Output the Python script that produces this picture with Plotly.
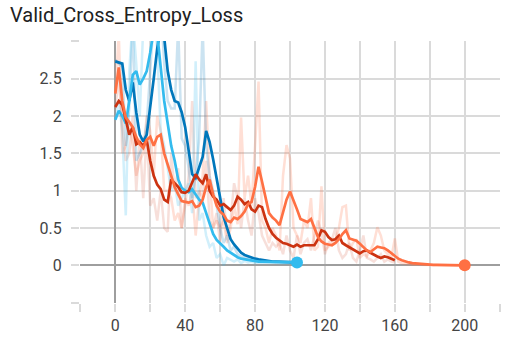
import plotly.graph_objects as go

# ---------------- data ----------------
x_blue = list(range(0, 105, 2))
dark_blue_smooth = [2.73, 2.72, 2.70, 2.35, 2.2, 2.45, 2.05, 1.75, 1.66, 1.75,
                    2.1, 2.5, 2.9, 3.2, 3.05, 2.6, 2.35, 2.2, 2.18, 2.05,
                    1.85, 1.55, 1.22, 1.17, 1.3, 1.45, 1.8, 1.65, 1.42, 1.15,
                    0.9, 0.65, 0.5, 0.35, 0.28, 0.22, 0.17, 0.14, 0.12, 0.1,
                    0.09, 0.08, 0.07, 0.06, 0.06, 0.05, 0.05, 0.05, 0.04, 0.04,
                    0.04, 0.04, 0.04]
light_blue_smooth = [1.95, 2.07, 2.0, 1.9, 2.2, 2.55, 2.6, 2.42, 2.5, 2.6,
                     2.85, 3.15, 3.1, 2.6, 2.2, 1.9, 1.6, 1.4, 1.15, 1.04,
                     1.0, 0.98, 1.02, 0.95, 0.88, 0.84, 0.7, 0.55, 0.42, 0.34,
                     0.3, 0.25, 0.2, 0.17, 0.13, 0.11, 0.09, 0.08, 0.07, 0.06,
                     0.06, 0.05, 0.05, 0.05, 0.05, 0.05, 0.04, 0.04, 0.04, 0.04,
                     0.04, 0.04, 0.04]
dark_blue_raw = [2.75, 2.7, 2.65, 1.6, 2.1, 3.3, 1.4, 1.5, 1.6, 1.9,
                 2.7, 3.3, 3.4, 3.5, 2.7, 2.2, 2.1, 2.1, 3.2, 1.7,
                 1.6, 1.3, 0.9, 1.2, 1.7, 3.2, 1.6, 1.2, 1.0, 0.8,
                 0.5, 0.3, 0.4, 0.2, 0.25, 0.15, 0.12, 0.1, 0.1, 0.07,
                 0.08, 0.06, 0.05, 0.06, 0.05, 0.05, 0.04, 0.05, 0.04, 0.04,
                 0.04, 0.04, 0.04]
light_blue_raw = [1.95, 2.2, 1.8, 0.67, 2.6, 3.3, 2.7, 2.0, 3.2, 3.3,
                  3.3, 3.4, 2.9, 1.8, 1.6, 1.3, 1.0, 1.1, 0.8, 0.9,
                  1.0, 1.1, 0.7, 2.73, 0.6, 0.7, 0.4, 0.25, 0.3, 0.1,
                  0.15, 0.0, 0.1, 0.08, 0.05, 0.08, 0.03, 0.06, 0.04, 0.05,
                  0.03, 0.04, 0.03, 0.04, 0.03, 0.04, 0.03, 0.03, 0.03, 0.03,
                  0.03, 0.03, 0.03]

x_red = list(range(0, 161, 2))
dark_red_smooth = [2.12, 2.2, 2.15, 1.95, 1.75, 1.85, 1.62, 1.65, 1.6, 1.68,
                   1.4, 1.2, 1.08, 1.02, 0.88, 0.85, 1.15, 1.1, 1.05, 0.98,
                   0.97, 1.0, 1.1, 1.22, 1.15, 1.1, 1.22, 1.0, 0.92, 0.88,
                   0.8, 0.82, 0.78, 0.74, 0.8, 0.92, 0.88, 0.82, 0.85, 0.75,
                   0.72, 0.8, 0.78, 0.62, 0.5, 0.42, 0.37, 0.33, 0.3, 0.29,
                   0.27, 0.25, 0.28, 0.25, 0.27, 0.27, 0.28, 0.27, 0.35, 0.47,
                   0.45, 0.38, 0.34, 0.35, 0.4, 0.3, 0.27, 0.24, 0.22, 0.18,
                   0.16, 0.19, 0.2, 0.17, 0.14, 0.12, 0.1, 0.12, 0.11, 0.09,
                   0.07]
dark_red_raw = [2.1, 2.5, 1.9, 1.4, 1.5, 2.0, 1.0, 1.7, 0.9, 1.8,
                0.8, 0.9, 0.6, 1.0, 0.5, 0.45, 1.5, 1.0, 1.3, 0.5,
                0.8, 1.2, 2.2, 0.9, 1.0, 0.9, 1.4, 0.6, 0.5, 0.7,
                0.3, 0.9, 0.4, 0.6, 1.1, 0.9, 0.5, 0.9, 0.6, 0.4,
                0.9, 0.7, 0.4, 0.3, 0.2, 0.3, 0.25, 0.3, 0.15, 0.4,
                0.2, 0.1, 0.4, 0.15, 0.3, 0.35, 0.2, 0.4, 0.6, 0.45,
                0.15, 0.3, 0.35, 0.5, 0.2, 0.1, 0.15, 0.3, 0.1, 0.05,
                0.2, 0.4, 0.1, 0.08, 0.05, 0.1, 0.15, 0.05, 0.08, 0.05,
                0.04]

x_orange = list(range(0, 201, 2))
orange_smooth = [2.3, 2.65, 2.2, 1.98, 1.92, 1.85, 1.72, 1.62, 1.57, 1.68,
                 1.72, 1.6, 1.72, 1.75, 1.5, 1.35, 1.2, 1.05, 0.95, 0.86,
                 0.85, 0.84, 0.86, 0.78, 0.8, 0.88, 1.05, 1.15, 0.95, 0.8,
                 0.72, 0.68, 0.6, 0.58, 0.64, 0.62, 0.66, 0.72, 0.82, 0.85,
                 1.05, 1.32, 1.12, 0.92, 0.7, 0.64, 0.6, 0.54, 0.7, 0.88,
                 0.99, 0.88, 0.75, 0.62, 0.6, 0.58, 0.62, 0.5, 0.38, 0.32,
                 0.29, 0.28, 0.27, 0.3, 0.35, 0.42, 0.47, 0.36, 0.34, 0.33,
                 0.29, 0.25, 0.2, 0.18, 0.21, 0.25, 0.24, 0.23, 0.2, 0.16,
                 0.12, 0.09, 0.07, 0.05, 0.04, 0.03, 0.025, 0.02, 0.015, 0.012,
                 0.01, 0.008, 0.007, 0.006, 0.005, 0.004, 0.003, 0.002, 0.002, 0.001,
                 0.001]
orange_raw = [2.3, 3.1, 1.5, 1.6, 1.9, 1.6, 1.2, 1.4, 1.5, 2.0,
              1.8, 1.2, 2.0, 1.8, 1.0, 1.0, 0.9, 0.6, 0.7, 0.5,
              0.9, 0.8, 1.0, 0.4, 0.9, 1.2, 2.2, 1.2, 0.5, 0.6,
              0.5, 0.6, 0.3, 0.5, 0.8, 0.55, 1.98, 0.9, 1.2, 0.8,
              1.6, 2.46, 0.6, 0.5, 0.3, 0.5, 0.4, 0.2, 1.2, 1.61,
              1.43, 0.5, 0.4, 0.3, 0.6, 0.5, 0.9, 0.2, 0.25, 1.06,
              0.2, 0.25, 0.3, 0.35, 0.5, 0.78, 0.8, 0.2, 0.3, 0.35,
              0.1, 0.15, 0.12, 0.2, 0.3, 0.51, 0.4, 0.2, 0.15, 0.1,
              0.36, 0.05, 0.03, 0.02, 0.02, 0.01, 0.01, 0.01, 0.01, 0.0,
              0.0, 0.0, 0.0, 0.0, 0.0, 0.0, 0.0, 0.0, 0.0, 0.0,
              0.0]

x_tick_vals = list(range(-20, 221, 20))
x_tick_text = ["", "0", "", "40", "", "80", "", "120", "", "160", "", "200", ""]
y_tick_vals = [-0.5, 0, 0.5, 1, 1.5, 2, 2.5, 3]
y_tick_text = ["", "0", "0.5", "1", "1.5", "2", "2.5", ""]

title_text = "Valid_Cross_Entropy_Loss"

C_DBLUE = "#0077bb"
C_LBLUE = "#33bbee"
C_DRED = "#cc3311"
C_ORANGE = "#ff7043"

# ---------------- figure ----------------
fig = go.Figure()

def add_line(x, y, color, width, opacity=1.0):
    fig.add_trace(go.Scatter(x=x, y=y, mode="lines", opacity=opacity,
                             line=dict(color=color, width=width),
                             hoverinfo="skip", showlegend=False))

# raw (faint) lines
add_line(x_orange, orange_raw, C_ORANGE, 2.5, 0.22)
add_line(x_red, dark_red_raw, C_DRED, 2.5, 0.15)
add_line(x_blue, dark_blue_raw, C_DBLUE, 2.5, 0.2)
add_line(x_blue, light_blue_raw, C_LBLUE, 2.5, 0.22)

# smoothed lines
add_line(x_blue, dark_blue_smooth, C_DBLUE, 2.7)
add_line(x_blue, light_blue_smooth, C_LBLUE, 2.7)
add_line(x_red, dark_red_smooth, C_DRED, 2.7)
add_line(x_orange, orange_smooth, C_ORANGE, 2.7)

# end markers
fig.add_trace(go.Scatter(x=[x_blue[-1]], y=[light_blue_smooth[-1]], mode="markers",
                         marker=dict(color=C_LBLUE, size=12),
                         hoverinfo="skip", showlegend=False, cliponaxis=False))
fig.add_trace(go.Scatter(x=[x_orange[-1]], y=[orange_smooth[-1]], mode="markers",
                         marker=dict(color=C_ORANGE, size=12),
                         hoverinfo="skip", showlegend=False, cliponaxis=False))

grid_c = "#dadada"
fig.update_xaxes(range=[-20.2, 220.2], tickmode="array", tickvals=x_tick_vals,
                 ticktext=x_tick_text, showgrid=True, gridcolor=grid_c, gridwidth=2,
                 zeroline=True, zerolinecolor="#9e9e9e", zerolinewidth=2,
                 ticks="outside", ticklen=8, tickwidth=2, tickcolor=grid_c,
                 showline=False, tickfont=dict(family="Roboto", size=16, color="#444"))
fig.update_yaxes(range=[-0.503, 3.003], tickmode="array", tickvals=y_tick_vals,
                 ticktext=y_tick_text, showgrid=True, gridcolor=grid_c, gridwidth=2,
                 zeroline=True, zerolinecolor="#9e9e9e", zerolinewidth=2,
                 ticks="outside", ticklen=8, tickwidth=2, tickcolor=grid_c,
                 ticklabelstandoff=6,
                 showline=False, tickfont=dict(family="Roboto", size=16, color="#444"))

fig.add_annotation(text=title_text, xref="paper", yref="paper",
                   x=(8 - 80) / 420, y=(307 - 15) / 266, xanchor="left", yanchor="middle",
                   showarrow=False, font=dict(family="Roboto", size=20, color="#212121"))

fig.update_layout(width=510, height=345, margin=dict(l=80, r=10, t=41, b=38),
                  paper_bgcolor="white", plot_bgcolor="white",
                  font=dict(family="Roboto"))

fig.write_html("out.html")
